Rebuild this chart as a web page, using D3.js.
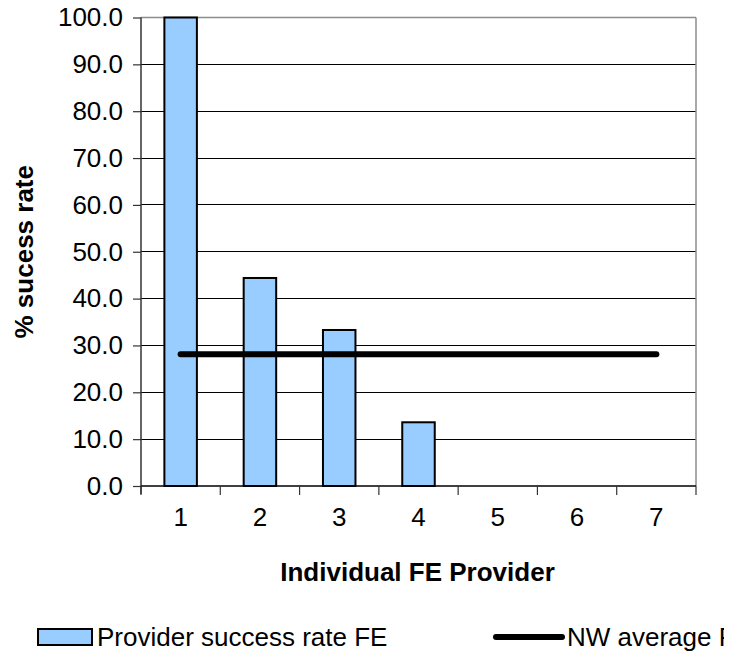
<!DOCTYPE html>
<html>
<head>
<meta charset="utf-8">
<script src="https://cdn.jsdelivr.net/npm/d3@7"></script>
<style>
  html, body { margin: 0; padding: 0; background: #fff; }
  svg { display: block; }
  text { font-family: Arial, "Liberation Sans", sans-serif; fill: #000; }
</style>
</head>
<body>
<svg id="chart" width="733" height="653"></svg>
<script>
const categories = ["1", "2", "3", "4", "5", "6", "7"];
const providerRates = [100.0, 44.4, 33.3, 13.6, 0, 0, 0];
const nwAverage = [28.1, 28.1, 28.1, 28.1, 28.1, 28.1, 28.1];
const yTicks = [0, 10, 20, 30, 40, 50, 60, 70, 80, 90, 100];
const seriesNames = ["Provider success rate FE", "NW average FE"];

(function () {
const svg = d3.select("#chart");
const pLeft = 141, pRight = 696, pTop = 17.5, pBottom = 486;

const x = d3.scaleBand().domain(categories).range([pLeft, pRight]).padding(0);
const y = d3.scaleLinear().domain([0, 100]).range([pBottom, pTop]);

// gridlines
svg.append("g").selectAll("line").data(yTicks.filter(d => d > 0 && d < 100)).join("line")
  .attr("x1", pLeft).attr("x2", pRight)
  .attr("y1", d => y(d)).attr("y2", d => y(d))
  .attr("stroke", "#000").attr("stroke-width", 1).attr("shape-rendering", "crispEdges");

// plot border top/right
svg.append("line").attr("x1", pLeft).attr("x2", pRight).attr("y1", y(100)).attr("y2", y(100))
  .attr("stroke", "#8c8c8c").attr("stroke-width", 1.5);
svg.append("line").attr("x1", pRight).attr("x2", pRight).attr("y1", y(100)).attr("y2", pBottom)
  .attr("stroke", "#8c8c8c").attr("stroke-width", 1.5);

// bars
const bw = x.bandwidth() * 0.41;
svg.append("g").selectAll("rect").data(providerRates.map((v, i) => ({c: categories[i], v})).filter(d => d.v > 0)).join("rect")
  .attr("x", d => x(d.c) + x.bandwidth() / 2 - bw / 2)
  .attr("y", d => y(d.v))
  .attr("width", bw)
  .attr("height", d => y(0) - y(d.v))
  .attr("fill", "#99ccff").attr("stroke", "#000").attr("stroke-width", 2);

// average line
const line = d3.line().x((d, i) => x(categories[i]) + x.bandwidth() / 2).y(d => y(d));
svg.append("path").datum(nwAverage).attr("d", line)
  .attr("fill", "none").attr("stroke", "#000").attr("stroke-width", 6).attr("stroke-linecap", "round");

// y axis
const yAxis = d3.axisLeft(y).tickValues(yTicks).tickSize(8).tickPadding(10).tickFormat(d3.format(".1f"));
const gy = svg.append("g").attr("transform", `translate(${pLeft},0)`).call(yAxis);
gy.select(".domain").attr("stroke", "#333").attr("stroke-width", 1.5).attr("d", `M0,${pTop}V${pBottom + 8}`);
gy.selectAll(".tick line").attr("stroke", "#333").attr("stroke-width", 1.2);
gy.selectAll(".tick text").attr("font-size", 26).attr("font-family", "Arial, 'Liberation Sans', sans-serif");

// x axis
const xAxis = d3.axisBottom(x).tickSize(0).tickPadding(22);
const gx = svg.append("g").attr("transform", `translate(0,${pBottom})`).call(xAxis);
gx.select(".domain").attr("stroke", "#000").attr("stroke-width", 1.5).attr("d", `M${pLeft},0H${pRight}`);
gx.selectAll(".tick text").attr("font-size", 26).attr("font-family", "Arial, 'Liberation Sans', sans-serif");
const boundaries = categories.map(c => x(c)).concat([pRight]);
gx.append("g").selectAll("line").data(boundaries).join("line")
  .attr("x1", d => d).attr("x2", d => d).attr("y1", 0).attr("y2", 9)
  .attr("stroke", "#333").attr("stroke-width", 1.2);

// axis titles
svg.append("text").attr("x", (pLeft + pRight) / 2 - 1).attr("y", 581)
  .attr("text-anchor", "middle").attr("font-size", 26).attr("font-weight", "bold")
  .text("Individual FE Provider");
svg.append("text").attr("transform", `translate(33,${(pTop + pBottom) / 2}) rotate(-90)`)
  .attr("text-anchor", "middle").attr("font-size", 26).attr("font-weight", "bold")
  .text("% sucess rate");

// legend (clipped at right like the reference)
svg.append("defs").append("clipPath").attr("id", "legclip")
  .append("rect").attr("x", 0).attr("y", 600).attr("width", 724).attr("height", 53);
const lg = svg.append("g").attr("clip-path", "url(#legclip)");
lg.append("rect").attr("x", 38).attr("y", 629).attr("width", 54).attr("height", 16)
  .attr("fill", "#99ccff").attr("stroke", "#000").attr("stroke-width", 2);
lg.append("text").attr("x", 97).attr("y", 646).attr("font-size", 26).text(seriesNames[0]);
lg.append("line").attr("x1", 496).attr("x2", 562).attr("y1", 637).attr("y2", 637)
  .attr("stroke", "#000").attr("stroke-width", 6).attr("stroke-linecap", "round");
lg.append("text").attr("x", 567).attr("y", 646).attr("font-size", 26).text(seriesNames[1]);
})();
</script>
</body>
</html>
